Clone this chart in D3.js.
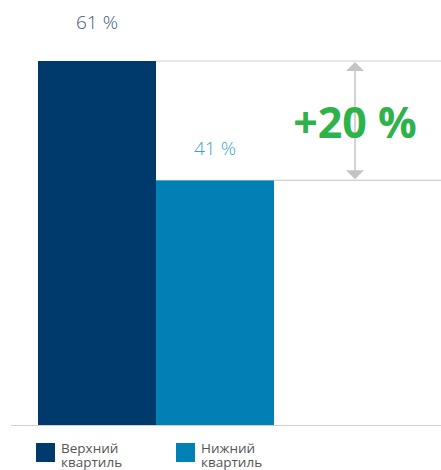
<!DOCTYPE html>
<html>
<head>
<meta charset="utf-8">
<script src="https://cdn.jsdelivr.net/npm/d3@7"></script>
<style>
  body { margin: 0; background: #fff; }
  svg { display: block; font-family: 'Open Sans', sans-serif; }
</style>
</head>
<body>
<svg id="chart" width="441" height="470"></svg>
<script>
// data
const categories = ['Верхний квартиль', 'Нижний квартиль'];
const values = [61, 41];
const valueLabels = ['61 %', '41 %'];
const diffLabel = '+20 %';
const colors = ['#003a6c', '#0080b4'];
const labelColors = ['#3b5a82', '#3a9fcc'];

const svg = d3.select('#chart');

const x = d3.scaleBand()
  .domain(categories)
  .range([38, 274])
  .padding(0);

const y = d3.scaleLinear()
  .domain([0, 61])
  .range([425, 61]);

// reference lines
const gridColor = '#d0d0d0';
svg.append('line')
  .attr('x1', x(categories[0]) + x.bandwidth()).attr('x2', 441)
  .attr('y1', y(values[0])).attr('y2', y(values[0]))
  .attr('stroke', gridColor).attr('stroke-width', 1.2);
svg.append('line')
  .attr('x1', x(categories[1]) + x.bandwidth()).attr('x2', 441)
  .attr('y1', y(values[1])).attr('y2', y(values[1]))
  .attr('stroke', gridColor).attr('stroke-width', 1.2);

// bars
svg.selectAll('rect.bar')
  .data(values)
  .join('rect')
  .attr('class', 'bar')
  .attr('x', (d, i) => x(categories[i]))
  .attr('y', d => y(d))
  .attr('width', x.bandwidth())
  .attr('height', d => y(0) - y(d))
  .attr('fill', (d, i) => colors[i]);

// baseline
svg.append('line')
  .attr('x1', 11).attr('x2', 441)
  .attr('y1', y(0) + 0.5).attr('y2', y(0) + 0.5)
  .attr('stroke', gridColor).attr('stroke-width', 1.2);

// value labels
svg.selectAll('text.val')
  .data(values)
  .join('text')
  .attr('class', 'val')
  .attr('x', (d, i) => x(categories[i]) + x.bandwidth() / 2)
  .attr('y', (d, i) => i === 0 ? 29 : y(d) - 25)
  .attr('text-anchor', 'middle')
  .attr('font-size', 19)
  .attr('font-weight', 300)
  .attr('fill', (d, i) => labelColors[i])
  .text((d, i) => valueLabels[i]);

// difference arrow
const ax = 355;
const arrowColor = '#c4c4c4';
svg.append('line')
  .attr('x1', ax).attr('x2', ax)
  .attr('y1', y(values[0]) + 8).attr('y2', y(values[1]) - 8)
  .attr('stroke', arrowColor).attr('stroke-width', 1.5);
svg.append('path')
  .attr('d', `M${ax},${y(values[0]) + 1} L${ax + 9},${y(values[0]) + 10} L${ax - 9},${y(values[0]) + 10} Z`)
  .attr('fill', arrowColor);
svg.append('path')
  .attr('d', `M${ax},${y(values[1]) - 1} L${ax + 9},${y(values[1]) - 10} L${ax - 9},${y(values[1]) - 10} Z`)
  .attr('fill', arrowColor);

// diff label
svg.append('text')
  .attr('x', ax).attr('y', 138)
  .attr('text-anchor', 'middle')
  .attr('font-size', 43)
  .attr('font-weight', 700)
  .attr('fill', '#2db34a')
  .text(diffLabel);

// legend
const legendX = [36, 176];
const legend = svg.selectAll('g.legend')
  .data(categories)
  .join('g')
  .attr('class', 'legend')
  .attr('transform', (d, i) => `translate(${legendX[i]},443)`);
legend.append('rect')
  .attr('width', 19).attr('height', 19)
  .attr('fill', (d, i) => colors[i]);
legend.append('text')
  .attr('x', 25)
  .attr('font-size', 13.5)
  .attr('fill', '#555')
  .selectAll('tspan')
  .data(d => d.split(' '))
  .join('tspan')
  .attr('x', 25)
  .attr('y', (d, i) => 10 + i * 14)
  .text(d => d);
</script>
</body>
</html>
